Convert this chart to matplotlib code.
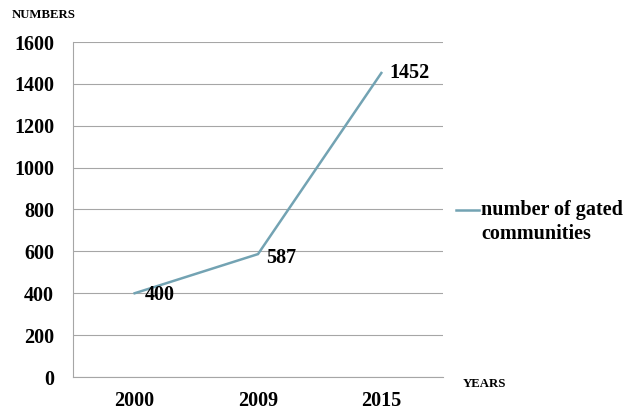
import matplotlib
matplotlib.use("Agg")
import matplotlib.pyplot as plt

years = ["2000", "2009", "2015"]
counts = [400, 587, 1452]
series_name = "number of gated\ncommunities"
y_ticks = [0, 200, 400, 600, 800, 1000, 1200, 1400, 1600]

plt.rcParams["font.family"] = ["Liberation Serif", "DejaVu Serif"]
plt.rcParams["font.weight"] = "bold"

line_color = "#73A3B3"
grid_color = "#A6A6A6"

fig = plt.figure(figsize=(6.23, 4.11), dpi=100)
ax = fig.add_axes([73 / 623, 1 - 377 / 411, 370 / 623, 335 / 411])

x = list(range(len(years)))
ax.plot(x, counts, color=line_color, lw=1.8, solid_joinstyle="miter")

ax.set_xlim(-0.5, len(years) - 0.5)
ax.set_ylim(0, 1600)
ax.set_yticks(y_ticks)
ax.set_xticks(x)
ax.set_xticklabels(years)
ax.yaxis.grid(True, color=grid_color, lw=0.8)
ax.set_axisbelow(True)
for side in ("top", "right"):
    ax.spines[side].set_visible(False)
for side in ("left", "bottom"):
    ax.spines[side].set_color(grid_color)
    ax.spines[side].set_linewidth(0.8)
ax.tick_params(axis="both", length=0, labelsize=14.5)
ax.tick_params(axis="y", pad=13.5)
ax.tick_params(axis="x", pad=10)

# value labels next to each point
offsets = [(7, -1.5), (6, -3), (6, 0)]
for xi, v, (dx, dy) in zip(x, counts, offsets):
    ax.annotate(str(v), (xi, v), xytext=(dx, dy), textcoords="offset points",
                ha="left", va="center", fontsize=14.5, fontweight="bold")

# legend entry
fig.add_artist(plt.Line2D([456 / 623, 479 / 623], [1 - 210 / 411] * 2,
                          color=line_color, lw=1.8, transform=fig.transFigure))
fig.text(481 / 623, 1 - 200 / 411, series_name, ha="left", va="top",
         fontsize=14.5, fontweight="bold", linespacing=1.25)

fig.text(12 / 623, 1 - 15 / 411, "NUMBERS", ha="left", va="center",
         fontsize=9.2, fontweight="bold")
fig.text(463 / 623, 1 - 384 / 411, "YEARS", ha="left", va="center",
         fontsize=9.2, fontweight="bold")

fig.savefig("out.png", dpi=100)
